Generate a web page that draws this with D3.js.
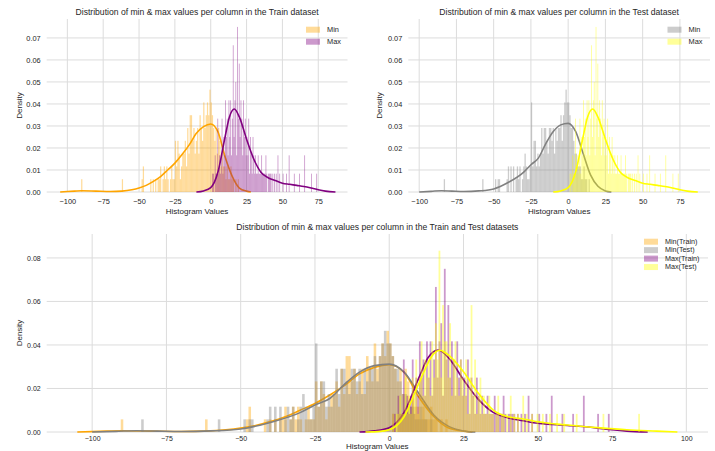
<!DOCTYPE html>
<html>
<head>
<meta charset="utf-8">
<script src="https://cdn.jsdelivr.net/npm/d3@7"></script>
<style>
  html, body { margin: 0; padding: 0; background: #ffffff; }
  svg { display: block; }
</style>
</head>
<body>
<svg id="chart" width="715" height="451"></svg>
<script>
// ---------------- DATA ----------------
const nColumns = 200;

// Histogram of per-column minimum values: bins start at -105, width 0.86
const minBinStart = -105;
const minBinWidth = 0.86;
const minTrainCounts = [
  0,0,0,0,0,0,0,0,0,0,
  0,0,0,0,0,0,0,1,0,0,
  0,0,0,0,0,0,0,0,0,0,
  0,0,0,0,0,0,0,0,0,0,
  0,0,0,0,0,0,0,0,0,0,
  1,0,0,0,0,0,0,0,0,0,
  0,0,0,0,0,0,1,2,0,0,
  0,0,0,1,0,1,0,1,0,1,
  1,2,0,1,2,1,2,1,0,1,
  2,1,1,4,2,4,3,1,2,3,
  3,4,2,5,3,6,6,4,5,3,
  4,5,3,6,5,4,7,5,6,7,
  6,8,7,6,5,4,5,3,5,4,
  2,3,2,2,1,2,1,1,2,1,
  1,0,1,0,1,0,0
];
const minTestCounts = [
  0,0,0,0,0,0,0,0,0,0,
  0,0,0,0,0,0,0,0,0,0,
  0,0,0,0,0,1,0,0,0,0,
  0,0,0,0,0,0,0,0,0,0,
  0,0,0,0,0,0,0,0,0,0,
  0,0,0,0,0,1,0,0,0,0,
  0,0,0,0,0,1,0,1,1,0,
  0,0,0,0,1,2,0,2,0,2,
  0,1,2,1,2,0,1,2,3,2,
  1,1,2,7,2,4,4,2,3,2,
  3,5,3,5,5,4,3,5,5,4,
  5,3,5,4,5,5,6,4,6,7,
  8,7,7,6,5,5,4,3,3,2,
  2,2,1,1,2,1,1,0,1,0
];

// Histogram of per-column maximum values: bins start at 1, width 0.6
const maxBinStart = 1;
const maxBinWidth = 0.6;
const maxTrainCounts = [
  1,1,0,2,1,1,4,1,2,1,
  2,4,1,3,2,5,3,4,2,5,
  3,5,2,4,8,3,5,6,2,9,
  4,7,3,5,4,2,5,3,4,2,
  3,2,4,1,3,2,1,3,2,1,
  2,1,1,2,1,1,1,2,1,1,
  1,1,2,1,0,1,1,1,1,0,
  1,0,1,0,1,0,2,0,1,0,
  0,0,1,0,0,0,1,0,0,2,
  0,0,0,0,0,1,0,0,0,0,
  0,1,0,0,0,0,0,2,0,0,
  0,0,0,0,0,1,0,0,0,0,
  0,1
];
const maxTestCounts = [
  1,0,1,1,2,1,1,3,1,2,
  1,3,2,4,1,3,5,2,4,3,
  4,2,5,3,6,4,10,3,7,5,
  5,3,6,2,4,5,3,2,4,3,
  2,4,1,3,7,2,4,1,2,3,
  1,2,1,1,2,1,1,0,1,2,
  0,1,1,0,1,0,2,0,1,0,
  1,0,0,2,0,1,0,0,1,0,
  0,1,0,0,1,0,0,0,1,0,
  0,0,1,0,0,0,1,0,0,0,
  0,0,0,1,0,0,0,0,0,0,
  0,0,0,0,0,0,0,0,1,0,
  0,0,0,0,0,0,0,0,0,0,
  0,0,0,0,0,0,0,0,1
];

// KDE curves (x value, density)
const minTrainKdeX = [-105,-95,-90,-80,-70,-62,-55,-50,-45,-40,-35,-30,-25,-20,-15,-10,-5,0,5,10,15,20,25,28];
const minTrainKdeY = [0,0.0004,0.0006,0.0004,0.0002,0.0004,0.001,0.0018,0.003,0.0048,0.007,0.010,0.0131,0.017,0.0214,0.0267,0.0297,0.0309,0.0274,0.016,0.0071,0.0018,0.0004,0];
const minTestKdeX = [-100,-92,-85,-78,-70,-60,-50,-40,-30,-25,-20,-15,-10,-5,0,5,10,15,20,25,29];
const minTestKdeY = [0,0.0003,0.0006,0.0004,0.0002,0.0005,0.0014,0.0044,0.0089,0.0124,0.0154,0.022,0.0275,0.0305,0.0312,0.0275,0.0176,0.0078,0.0026,0.0005,0];
const maxTrainKdeX = [-10,-5,0,5,10,13,16.5,20,25,30,35,40,45,50,55,60,65,70,75,80,87];
const maxTrainKdeY = [0,0.0005,0.002,0.009,0.025,0.034,0.0377,0.034,0.024,0.015,0.009,0.0065,0.0052,0.004,0.0035,0.003,0.0025,0.0018,0.001,0.0004,0];
const maxTestKdeX = [-8,-3,0,5,10,15,17,20,25,30,35,40,45,50,60,70,80,90,97];
const maxTestKdeY = [0,0.0003,0.001,0.007,0.0225,0.036,0.0376,0.0353,0.0277,0.0178,0.0101,0.007,0.006,0.0047,0.0032,0.002,0.001,0.0004,0];

// Text
const titleTrain = "Distribution of min & max values per column in the Train dataset";
const titleTest = "Distribution of min & max values per column in the Test dataset";
const titleBoth = "Distribution of min & max values per column in the Train and Test datasets";
const xLabel = "Histogram Values";
const yLabel = "Density";
const topXTicks = [-100, -75, -50, -25, 0, 25, 50, 75];
const bottomXTicks = [-100, -75, -50, -25, 0, 25, 50, 75, 100];
const topYTicks = [0, 0.01, 0.02, 0.03, 0.04, 0.05, 0.06, 0.07];
const bottomYTicks = [0, 0.02, 0.04, 0.06, 0.08];

// ---------------- DRAWING ----------------
const FONT = "'Liberation Sans', Arial, sans-serif";
const TEXT = "#262626";
const GRID = "#dcdcdc";
const COL = { orange: "#FFA500", grey: "#808080", purple: "#800080", yellow: "#FFFF00" };

function series(counts, start, width, kx, ky, color) {
  return { counts, start, width, kde: kx.map((x, i) => [x, ky[i]]), color };
}
const sMinTrain = series(minTrainCounts, minBinStart, minBinWidth, minTrainKdeX, minTrainKdeY, COL.orange);
const sMinTest  = series(minTestCounts,  minBinStart, minBinWidth, minTestKdeX,  minTestKdeY,  COL.grey);
const sMaxTrain = series(maxTrainCounts, maxBinStart, maxBinWidth, maxTrainKdeX, maxTrainKdeY, COL.purple);
const sMaxTest  = series(maxTestCounts,  maxBinStart, maxBinWidth, maxTestKdeX,  maxTestKdeY,  COL.yellow);
// In the reference, the Test panel's "Max" layer shows the same distribution as Train max, in yellow
const sTopRightMax = series(maxTrainCounts, maxBinStart, maxBinWidth, maxTrainKdeX, maxTrainKdeY, COL.yellow);

const svg = d3.select("#chart");

function panel(cfg) {
  const g = svg.append("g");
  const x = d3.scaleLinear().domain(cfg.xDomain).range([cfg.left, cfg.right]);
  const y = d3.scaleLinear().domain(cfg.yDomain).range([cfg.bottom, cfg.top]);

  // grid
  g.append("g").selectAll("line.h").data(cfg.yTicks).join("line")
    .attr("x1", cfg.left).attr("x2", cfg.right)
    .attr("y1", d => y(d)).attr("y2", d => y(d))
    .attr("stroke", GRID).attr("stroke-width", 1);
  g.append("g").selectAll("line.v").data(cfg.xTicks).join("line")
    .attr("x1", d => x(d)).attr("x2", d => x(d))
    .attr("y1", cfg.top).attr("y2", cfg.bottom)
    .attr("stroke", GRID).attr("stroke-width", 1);

  // series
  const line = d3.line().x(d => x(d[0])).y(d => y(d[1])).curve(d3.curveMonotoneX);
  cfg.series.forEach(s => {
    const bars = s.counts.map((c, i) => ({
      x0: s.start + i * s.width, x1: s.start + (i + 1) * s.width,
      d: c / (nColumns * s.width)
    })).filter(b => b.d > 0);
    g.append("g").selectAll("rect").data(bars).join("rect")
      .attr("x", b => x(b.x0))
      .attr("width", b => Math.max(0.5, x(b.x1) - x(b.x0)))
      .attr("y", b => y(b.d))
      .attr("height", b => y(0) - y(b.d))
      .attr("fill", s.color).attr("fill-opacity", 0.4);
    g.append("path").datum(s.kde).attr("d", line)
      .attr("fill", "none").attr("stroke", s.color)
      .attr("stroke-width", 1.6).attr("stroke-linejoin", "round");
  });

  // axes (tick labels only, no spines)
  const xAxis = d3.axisBottom(x).tickValues(cfg.xTicks).tickSize(0).tickPadding(0)
    .tickFormat(d3.format("d"));
  const xg = g.append("g").attr("transform", `translate(0,${cfg.bottom + cfg.xTickGap})`).call(xAxis);
  xg.select(".domain").remove();
  xg.selectAll("text").attr("font-family", FONT).attr("font-size", cfg.tickSize).attr("fill", TEXT)
    .attr("dy", "0.32em").attr("y", 0);

  const yAxis = d3.axisLeft(y).tickValues(cfg.yTicks).tickSize(0).tickPadding(0)
    .tickFormat(d3.format(".2f"));
  const yg = g.append("g").attr("transform", `translate(${cfg.left - 6},0)`).call(yAxis);
  yg.select(".domain").remove();
  yg.selectAll("text").attr("font-family", FONT).attr("font-size", cfg.tickSize).attr("fill", TEXT).attr("x", 0);

  // labels
  g.append("text").attr("x", (cfg.left + cfg.right) / 2).attr("y", cfg.bottom + cfg.xLabelGap)
    .attr("text-anchor", "middle").attr("dominant-baseline", "middle")
    .attr("font-family", FONT).attr("font-size", 8).attr("fill", TEXT).text(xLabel);
  g.append("text").attr("transform", `translate(${cfg.yLabelX},${(cfg.top + cfg.bottom) / 2}) rotate(-90)`)
    .attr("text-anchor", "middle").attr("dominant-baseline", "middle")
    .attr("font-family", FONT).attr("font-size", 8).attr("fill", TEXT).text(yLabel);
  g.append("text").attr("x", (cfg.left + cfg.right) / 2).attr("y", cfg.titleY)
    .attr("text-anchor", "middle").attr("dominant-baseline", "middle")
    .attr("font-family", FONT).attr("font-size", 8.6).attr("fill", TEXT).text(cfg.title);

  // legend
  const lg = g.append("g");
  cfg.legend.forEach((item, i) => {
    const cy = cfg.legendY + i * cfg.legendStep;
    lg.append("rect").attr("x", cfg.legendX).attr("y", cy - 3).attr("width", 14).attr("height", 6)
      .attr("fill", item.color).attr("fill-opacity", 0.4);
    lg.append("text").attr("x", cfg.legendX + 21).attr("y", cy)
      .attr("dominant-baseline", "middle")
      .attr("font-family", FONT).attr("font-size", cfg.legendSize).attr("fill", TEXT).text(item.label);
  });
}

panel({
  left: 46.7, right: 347.5, top: 19, bottom: 192,
  xDomain: [-114.4, 95.4], yDomain: [0, 0.0786],
  xTicks: topXTicks, yTicks: topYTicks,
  xTickGap: 10, xLabelGap: 20, yLabelX: 20, titleY: 12.3, tickSize: 7.4, legendSize: 7.4,
  title: titleTrain,
  series: [sMinTrain, sMaxTrain],
  legend: [{ label: "Min", color: COL.orange }, { label: "Max", color: COL.purple }],
  legendX: 306, legendY: 29.7, legendStep: 12
});

panel({
  left: 408.3, right: 710, top: 19, bottom: 192,
  xDomain: [-107.3, 95.2], yDomain: [0, 0.0786],
  xTicks: topXTicks, yTicks: topYTicks,
  xTickGap: 10, xLabelGap: 20, yLabelX: 380, titleY: 12.3, tickSize: 7.4, legendSize: 7.4,
  title: titleTest,
  series: [sMinTest, sTopRightMax],
  legend: [{ label: "Min", color: COL.grey }, { label: "Max", color: COL.yellow }],
  legendX: 667.5, legendY: 29.7, legendStep: 12
});

panel({
  left: 46.7, right: 708, top: 234, bottom: 432,
  xDomain: [-115.3, 107.3], yDomain: [0, 0.091],
  xTicks: bottomXTicks, yTicks: bottomYTicks,
  xTickGap: 7, xLabelGap: 15, yLabelX: 20, titleY: 227.5, tickSize: 7, legendSize: 7.2,
  title: titleBoth,
  series: [sMinTrain, sMinTest, sMaxTrain, sMaxTest],
  legend: [
    { label: "Min(Train)", color: COL.orange }, { label: "Min(Test)", color: COL.grey },
    { label: "Max(Train)", color: COL.purple }, { label: "Max(Test)", color: COL.yellow }
  ],
  legendX: 644, legendY: 241.7, legendStep: 8.45
});
</script>
</body>
</html>
